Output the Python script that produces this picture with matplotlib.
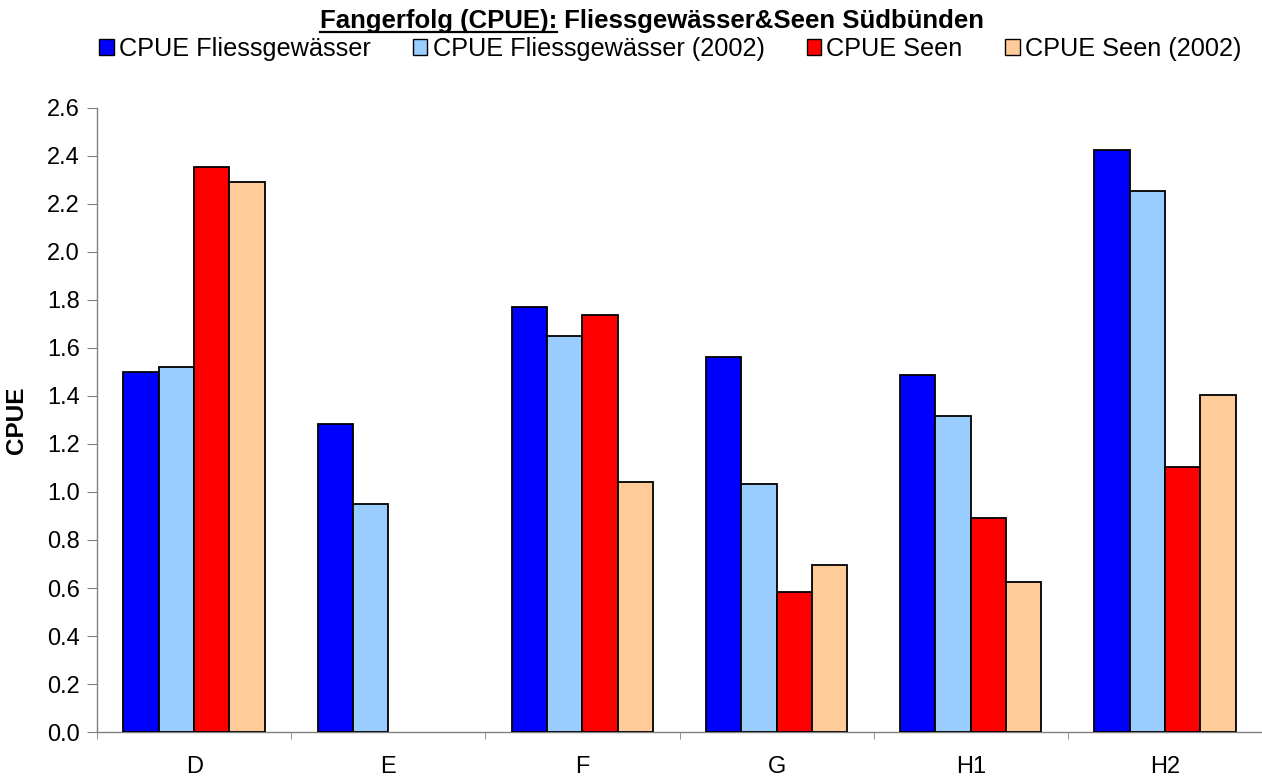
import numpy as np
import matplotlib
matplotlib.use("Agg")
import matplotlib.pyplot as plt
from matplotlib.patches import Patch
from matplotlib.lines import Line2D

plt.rcParams['font.family'] = ['Liberation Sans', 'DejaVu Sans']

# data
categories = ["D", "E", "F", "G", "H1", "H2"]
series_names = ["CPUE Fliessgewässer", "CPUE Fliessgewässer (2002)",
                "CPUE Seen", "CPUE Seen (2002)"]
fliess = [1.50, 1.285, 1.772, 1.564, 1.486, 2.426]
fliess_2002 = [1.52, 0.949, 1.65, 1.033, 1.318, 2.255]
seen = [2.352, np.nan, 1.739, 0.582, 0.892, 1.103]
seen_2002 = [2.29, np.nan, 1.043, 0.696, 0.625, 1.406]
colors = ["#0000ff", "#99ccff", "#ff0000", "#ffcc99"]

fig = plt.figure(figsize=(12.62, 7.82), dpi=100)
ax = fig.add_axes([0.0769, 0.0639, 0.9231, 0.7981])

x = np.arange(len(categories))
w = 0.182
for i, (vals, col) in enumerate(zip([fliess, fliess_2002, seen, seen_2002], colors)):
    ax.bar(x + (i - 1.5) * w, np.array(vals, dtype=float), width=w, color=col,
           edgecolor="black", linewidth=1.3, zorder=3)

ax.set_xlim(-0.5, len(categories) - 0.5)
ax.set_ylim(0, 2.6)
ax.set_yticks(np.arange(0, 2.61, 0.2))
ax.set_yticklabels([f"{v:.1f}" for v in np.arange(0, 2.61, 0.2)])
ax.set_xticks(x)
ax.set_xticklabels(categories)
ax.set_xticks(np.arange(-0.5, len(categories)), minor=True)
ax.tick_params(axis="x", which="major", length=0, pad=17, labelsize=17)
ax.tick_params(axis="x", which="minor", length=5, direction="out", color="#808080")
ax.tick_params(axis="y", length=7, direction="out", color="#808080", labelsize=17, pad=5.5)

for s in ["top", "right"]:
    ax.spines[s].set_visible(False)
for s in ["left", "bottom"]:
    ax.spines[s].set_color("#808080")
    ax.spines[s].set_linewidth(1.0)

ax.set_ylabel("CPUE", fontsize=17.5, fontweight="bold")
ax.yaxis.set_label_coords(-0.059, 0.5)

# legend
handles = [Patch(facecolor=c, edgecolor="black", linewidth=1.0) for c in colors]
fig.legend(handles, series_names, loc="center", bbox_to_anchor=(0.531, 0.937),
           ncol=4, frameon=False, fontsize=18.2, handlelength=0.58, handleheight=0.6,
           handletextpad=0.2, columnspacing=1.67)

# title with underlined first part
part1 = "Fangerfolg (CPUE):"
part2 = " Fliessgewässer&Seen Südbünden"
ty = 1 - 21 / 782
t1 = fig.text(0, ty, part1, fontsize=18.5, fontweight="bold", va="center", ha="left")
t2 = fig.text(0, ty, part2, fontsize=18.5, fontweight="bold", va="center", ha="left")
r = fig.canvas.get_renderer()
b1 = t1.get_window_extent(r)
b2 = t2.get_window_extent(r)
W = fig.get_figwidth() * fig.dpi
total = b1.width + b2.width
x0 = (652 - total / 2) / W
t1.set_x(x0)
t2.set_x(x0 + b1.width / W)
b1 = t1.get_window_extent(r)
uy = (b1.y0 + 1.5) / (fig.get_figheight() * fig.dpi)
fig.add_artist(Line2D([b1.x0 / W, b1.x1 / W], [uy, uy], color="black",
                      linewidth=1.6, transform=fig.transFigure))

fig.savefig("out.png", dpi=100)
